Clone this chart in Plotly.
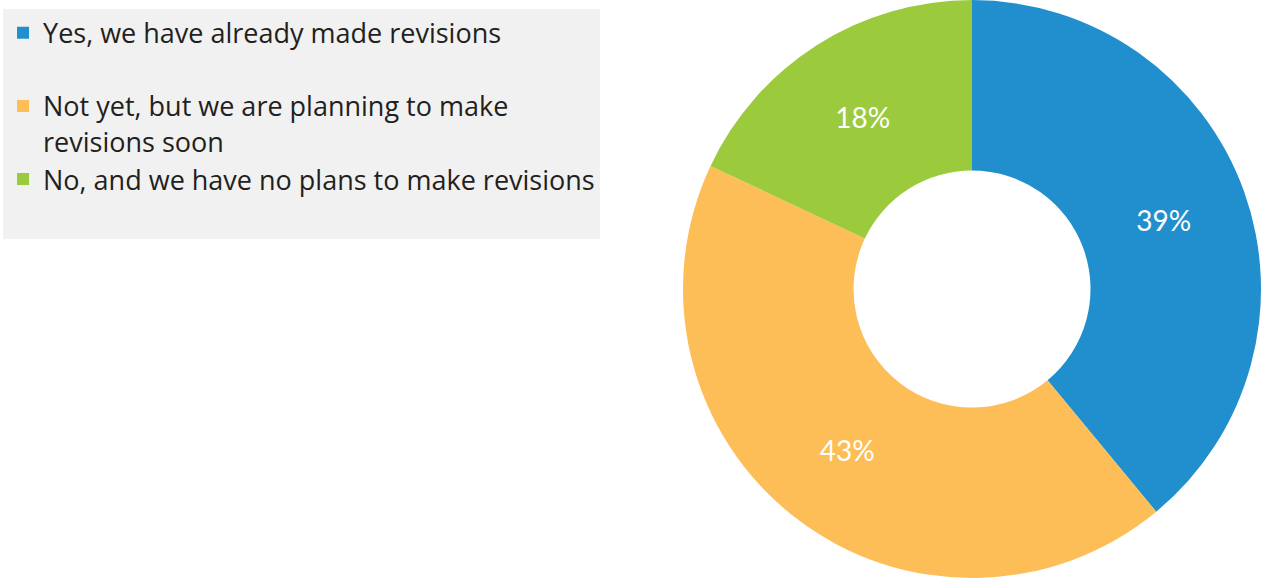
import plotly.graph_objects as go

# Survey responses: have the policies been revised?
labels = [
    "Yes, we have already made revisions<br> ",
    "Not yet, but we are planning to make<br>revisions soon",
    "No, and we have no plans to make revisions<br> ",
]
values = [39, 43, 18]
colors = ["#218FCE", "#FDBD57", "#9BCB3C"]

W, H = 1266, 578
cx = 972  # horizontal centre of the donut in px
r = H / 2

fig = go.Figure(
    go.Pie(
        labels=labels,
        values=values,
        marker=dict(colors=colors, line=dict(width=0)),
        hole=0.41,
        sort=False,
        direction="clockwise",
        rotation=0,
        textinfo="percent",
        texttemplate="%{percent:.0%}",
        textposition="inside",
        insidetextorientation="horizontal",
        insidetextfont=dict(color="white", size=28, family="Lato"),
        hoverinfo="label+percent",
        domain=dict(x=[(cx - r) / W, (cx + r) / W], y=[0, 1]),
    )
)

fig.update_layout(
    width=W,
    height=H,
    margin=dict(l=0, r=0, t=0, b=0),
    paper_bgcolor="white",
    plot_bgcolor="white",
    showlegend=True,
    legend=dict(
        x=0.0024,
        y=0.985,
        xanchor="left",
        yanchor="top",
        bgcolor="#F1F1F1",
        valign="top",
        font=dict(family="Open Sans", size=27, color="#231F20"),
        traceorder="normal",
    ),
)

fig.write_html("out.html")
